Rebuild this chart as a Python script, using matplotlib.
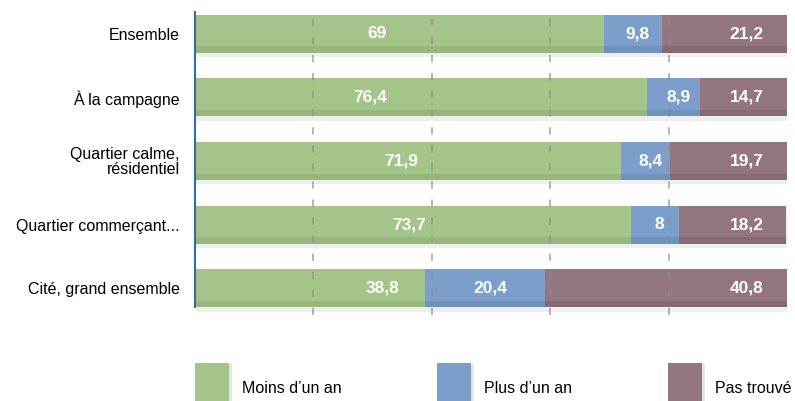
import numpy as np
import matplotlib
matplotlib.use("Agg")
from matplotlib import pyplot as plt
from matplotlib import patheffects as pe
from matplotlib.patches import Rectangle

plt.rcParams['font.family'] = ['Liberation Sans', 'DejaVu Sans']

# données
categories = ["Ensemble", "À la campagne", "Quartier calme,\nrésidentiel",
              "Quartier commerçant...", "Cité, grand ensemble"]
moins_un_an = [69, 76.4, 71.9, 73.7, 38.8]
plus_un_an = [9.8, 8.9, 8.4, 8, 20.4]
pas_trouve = [21.2, 14.7, 19.7, 18.2, 40.8]
series_names = ["Moins d\u2019un an", "Plus d\u2019un an", "Pas trouvé"]

# position horizontale des étiquettes vertes (en %)
green_label_x = [30.7, 29.6, 34.8, 36.1, 31.6]

colors = ["#a5c489", "#7b9fca", "#937680"]
dark = ["#87a56d", "#6184ae", "#765b64"]

fig = plt.figure(figsize=(7.95, 4.01), dpi=100)
ax = fig.add_axes([0.2453, 0.2145, 0.7447, 0.7555])

y = np.arange(len(categories))
h = 0.6
shadow = [pe.SimplePatchShadow(offset=(1, -3), shadow_rgbFace="#aaaaaa", alpha=0.2), pe.Normal()]

left = np.zeros(len(categories))
for vals, c, d in zip([moins_un_an, plus_un_an, pas_trouve], colors, dark):
    vals = np.array(vals)
    bars = ax.barh(y, vals, left=left, height=h, color=c, zorder=2)
    for b in bars:
        b.set_path_effects(shadow)
    # bande plus sombre en bas de la barre
    ax.barh(y + h / 2 - 0.05, vals, left=left, height=0.10, color=d, alpha=0.45, zorder=3, linewidth=0)
    left = left + vals

# étiquettes
fmt = lambda v: ("%g" % v).replace(".", ",")
lab = dict(ha="center", va="center", color="white", fontweight="bold", fontsize=12.5, zorder=5)
for i in range(len(categories)):
    ax.text(green_label_x[i], y[i], fmt(moins_un_an[i]), **lab)
    ax.text(moins_un_an[i] + plus_un_an[i] / 2 + 0.8, y[i], fmt(plus_un_an[i]), **lab)
    ax.text(93.2, y[i], fmt(pas_trouve[i]), **lab)

ax.set_xlim(0, 100)
ax.set_ylim(4.42, -0.34)
ax.set_yticks(y)
ax.set_yticklabels(categories, fontsize=11.5, linespacing=1.0)
ax.tick_params(axis="y", length=0, pad=11)
ax.set_xticks([20, 40, 60, 80])
ax.tick_params(axis="x", length=0, labelbottom=False)
ax.set_axisbelow(False)
ax.grid(axis="x", color="#8c8c8c", linestyle=(0, (4, 6)), linewidth=1.3, alpha=0.7)
for s in ["top", "right", "bottom"]:
    ax.spines[s].set_visible(False)
ax.spines["left"].set_color("#2e6fa7")
ax.spines["left"].set_linewidth(1.5)
ax.spines["left"].set_bounds(-0.34, 4.3)
ax.spines["left"].set_zorder(6)

# légende
leg_x = [195, 437, 668]
for lx, c, d, name in zip(leg_x, colors, dark, series_names):
    r = Rectangle((lx / 795, 0), 34 / 795, 38 / 401, transform=fig.transFigure,
                  facecolor=c, edgecolor="none")
    r.set_path_effects([pe.SimplePatchShadow(offset=(2, -1), shadow_rgbFace="#aaaaaa", alpha=0.3), pe.Normal()])
    fig.add_artist(r)
    fig.text((lx + 47) / 795, 8 / 401, name, fontsize=11.5, va="baseline", ha="left")

fig.savefig("out.png", dpi=100)
